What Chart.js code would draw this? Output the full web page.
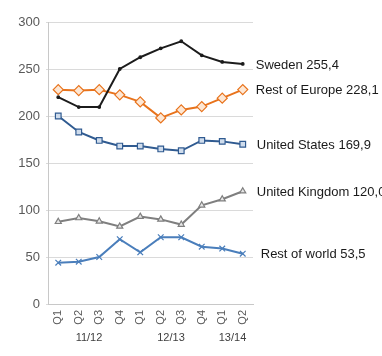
<!DOCTYPE html>
<html>
<head>
<meta charset="utf-8">
<script src="https://cdn.jsdelivr.net/npm/chart.js@4/dist/chart.umd.min.js"></script>
<style>
  html, body { margin: 0; padding: 0; background: #fff; }
  #wrap { width: 382px; height: 356px; position: relative; }
</style>
</head>
<body>
<div id="wrap"><canvas id="c" width="382" height="356"></canvas></div>
<script>
// Quarterly figures per market, split into fiscal years
const quarters = ['Q1', 'Q2', 'Q3', 'Q4', 'Q1', 'Q2', 'Q3', 'Q4', 'Q1', 'Q2'];
const fiscalYears = ['11/12', '12/13', '13/14'];
const yearSpans = [[0, 3], [4, 7], [8, 9]];

const seriesNames = ['Sweden', 'Rest of Europe', 'United States', 'United Kingdom', 'Rest of world'];
const sweden       = [220, 209.5, 209.5, 250, 262.5, 272, 279.5, 264.5, 257.5, 255.4];
const restOfEurope = [228, 227, 228, 222.5, 215, 198, 206.5, 210, 219, 228.1];
const unitedStates = [200, 183, 174, 168, 168, 165, 163, 174, 173, 169.9];
const unitedKingdom = [87.5, 91.5, 88, 82.5, 93, 90, 84.5, 105, 111.5, 120.0];
const restOfWorld  = [44, 45, 50, 69, 55, 71, 71, 61, 59, 53.5];

const yTicks = [0, 50, 100, 150, 200, 250, 300];

const FONT = '"Liberation Sans", Arial, sans-serif';

// Name + last value at the right end of each line
const endLabels = {
  id: 'endLabels',
  afterDatasetsDraw(chart) {
    const ctx = chart.ctx;
    ctx.save();
    ctx.font = '13px ' + FONT;
    ctx.fillStyle = '#1a1a1a';
    ctx.textBaseline = 'middle';
    ctx.textAlign = 'left';
    chart.data.datasets.forEach((ds, i) => {
      const meta = chart.getDatasetMeta(i);
      const pt = meta.data[meta.data.length - 1];
      const v = ds.data[ds.data.length - 1];
      const txt = ds.label + ' ' + v.toFixed(1).replace('.', ',');
      ctx.fillText(txt, pt.x + ds.labelGap, pt.y + 1);
    });
    ctx.restore();
  }
};

// Fiscal-year captions under each group of quarters
const yearLabels = {
  id: 'yearLabels',
  afterDraw(chart) {
    const ctx = chart.ctx;
    const x = chart.scales.x;
    ctx.save();
    ctx.font = '11px ' + FONT;
    ctx.fillStyle = '#404040';
    ctx.textAlign = 'center';
    ctx.textBaseline = 'middle';
    fiscalYears.forEach((label, i) => {
      const [a, b] = yearSpans[i];
      const cx = (x.getPixelForValue(a) + x.getPixelForValue(b)) / 2;
      ctx.fillText(label, cx, x.top + 34);
    });
    ctx.restore();
  }
};

function line(label, data, color, style, radius, fill, gap) {
  return {
    label, data,
    borderColor: color,
    backgroundColor: fill,
    borderWidth: 2,
    pointStyle: style,
    pointRadius: radius,
    pointBorderColor: color,
    pointBackgroundColor: fill,
    pointBorderWidth: 1.2,
    tension: 0,
    labelGap: gap
  };
}

new Chart(document.getElementById('c'), {
  type: 'line',
  data: {
    labels: quarters,
    datasets: [
      line(seriesNames[0], sweden, '#1c1c1c', 'circle', 1.3, '#1c1c1c', 13),
      line(seriesNames[1], restOfEurope, '#e8731c', 'rectRot', 5, '#fde7d4', 13),
      line(seriesNames[2], unitedStates, '#305b91', 'rect', 4, '#cfdcec', 14),
      line(seriesNames[3], unitedKingdom, '#7f7f7f', 'triangle', 3.5, '#e6e6e6', 14),
      line(seriesNames[4], restOfWorld, '#4a7ebb', 'crossRot', 4, '#4a7ebb', 18)
    ]
  },
  options: {
    responsive: false,
    animation: false,
    devicePixelRatio: 1,
    layout: { padding: { top: 22, right: 129, left: 0, bottom: 0 } },
    plugins: { legend: { display: false }, tooltip: { enabled: false } },
    scales: {
      x: {
        offset: true,
        grid: { display: false, drawTicks: false },
        border: { color: '#c8c8c8', width: 1 },
        afterFit(s) { s.height = 52; },
        ticks: {
          minRotation: 90, maxRotation: 90, padding: 6,
          color: '#595959', font: { family: FONT, size: 11 }
        }
      },
      y: {
        min: 0, max: 300,
        afterFit(s) { s.width = 48; },
        afterBuildTicks(s) { s.ticks = yTicks.map(v => ({ value: v })); },
        grid: { color: '#dadada', lineWidth: 1, drawTicks: true, tickLength: 2 },
        border: { color: '#c8c8c8', width: 1 },
        ticks: {
          padding: 6, color: '#595959',
          font: { family: FONT, size: 13 }
        }
      }
    }
  },
  plugins: [endLabels, yearLabels]
});
</script>
</body>
</html>
